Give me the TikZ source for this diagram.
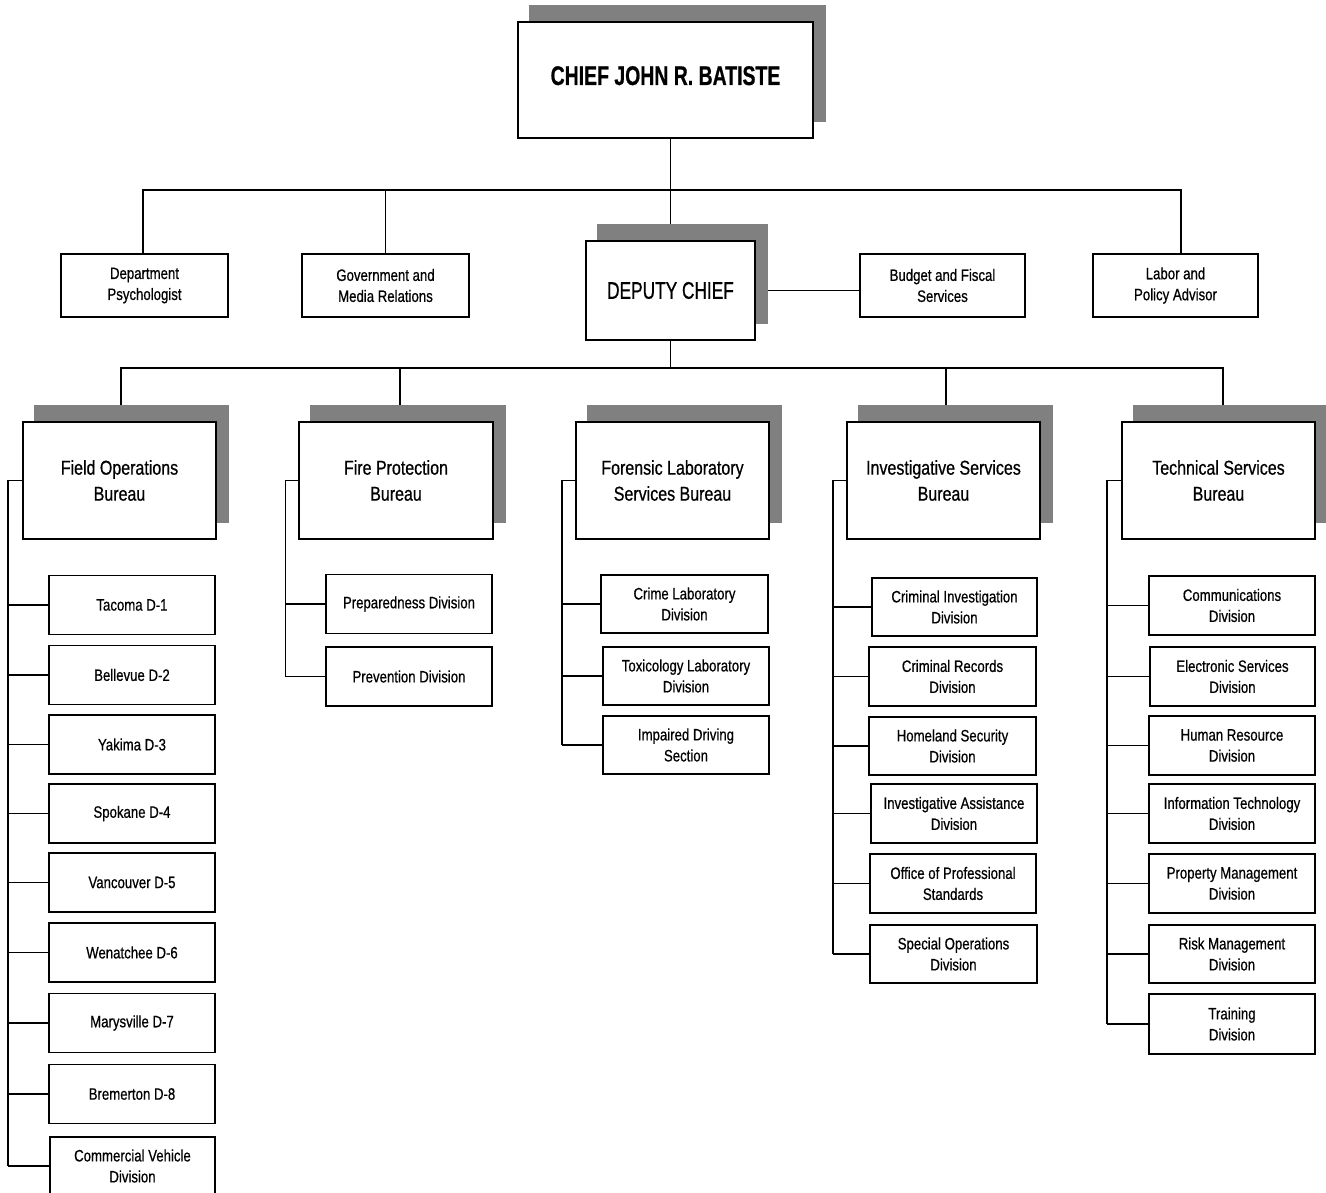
\documentclass[tikz,border=0pt]{standalone}
\usepackage{fontspec}
\setmainfont{Liberation Sans}[FakeStretch=0.8,FakeBold=0.6]
\newfontfamily\tfont{Liberation Sans}[FakeStretch=0.72,FakeBold=0.6]
\definecolor{shadowgray}{HTML}{808080}
\pgfdeclarelayer{bg}
\pgfsetlayers{bg,main}
\tikzset{
  box/.style={draw, fill=white, inner sep=0pt, align=center, line width=1.5pt},
  small/.style={box, minimum width=166, minimum height=59, font=\fontsize{16.5}{21}\selectfont},
  top2/.style={box, minimum height=63, font=\fontsize{16.5}{21}\selectfont},
  bureau/.style={box, minimum width=193, minimum height=117, font=\fontsize{20}{26}\selectfont},
  wire/.style={line width=1.6pt},
}
\begin{document}
\begin{tikzpicture}[x=1pt,y=-1pt]
\useasboundingbox (0,0) rectangle (1326,1193);
\clip (0,0) rectangle (1326,1193);
% top
\node[box, minimum width=295, minimum height=116, font=\tfont\bfseries\fontsize{27}{30}\selectfont] (chief) at (665.5,80) {\raisebox{-5pt}[0pt][0pt]{CHIEF JOHN R. BATISTE}};
\node[top2, minimum width=167] (psych) at (144.5,285.5) {Department\\Psychologist};
\node[top2, minimum width=167] (gov) at (385.5,285.5) {Government and\\Media Relations};
\node[box, minimum width=169, minimum height=99, font=\tfont\fontsize{24}{28}\selectfont] (deputy) at (670.5,290.5) {DEPUTY CHIEF};
\node[top2, minimum width=165] (budget) at (942.5,285.5) {Budget and Fiscal\\Services};
\node[top2, minimum width=165] (labor) at (1175.5,285.5) {Labor and\\Policy Advisor};
% bureaus
\node[bureau] (field) at (119.5,480.5) {Field Operations\\Bureau};
\node[bureau, minimum width=194] (fire) at (396,480.5) {Fire Protection\\Bureau};
\node[bureau] (forensic) at (672.5,480.5) {Forensic Laboratory\\Services Bureau};
\node[bureau] (invest) at (943.5,480.5) {Investigative Services\\Bureau};
\node[bureau] (tech) at (1218.5,480.5) {Technical Services\\Bureau};
% field children
\node[small] (d1) at (132,605) {Tacoma D-1};
\node[small] (d2) at (132,675) {Bellevue D-2};
\node[small] (d3) at (132,744.5) {Yakima D-3};
\node[small] (d4) at (132,813.5) {Spokane D-4};
\node[small] (d5) at (132,882.5) {Vancouver D-5};
\node[small] (d6) at (132,952.5) {Wenatchee D-6};
\node[small] (d7) at (132,1023) {Marysville D-7};
\node[small] (d8) at (132,1094) {Bremerton D-8};
\node[small, minimum width=165, minimum height=58] (cvd) at (132.5,1166) {Commercial Vehicle\\Division};
% fire children
\node[small] (prep) at (409,604) {Preparedness Division};
\node[small] (prev) at (409,676.5) {Prevention Division};
% forensic children
\node[small, minimum width=167, minimum height=58] (crime) at (684.5,604) {Crime Laboratory\\Division};
\node[small, minimum height=58] (tox) at (686,676) {Toxicology Laboratory\\Division};
\node[small, minimum height=58] (imp) at (686,745) {Impaired Driving\\Section};
% investigative children
\node[small, minimum width=165, minimum height=58] (cinv) at (954.5,607) {Criminal Investigation\\Division};
\node[small, minimum width=167] (crec) at (952.5,676.5) {Criminal Records\\Division};
\node[small, minimum width=167, minimum height=58] (home) at (952.5,746) {Homeland Security\\Division};
\node[small] (iad) at (954,813.5) {Investigative Assistance\\Division};
\node[small] (ops) at (953,883.5) {Office of Professional\\Standards};
\node[small, minimum width=167, minimum height=58] (sod) at (953.5,954) {Special Operations\\Division};
% technical children
\node[small] (comm) at (1232,605.5) {Communications\\Division};
\node[small, minimum width=165] (elec) at (1232.5,676.5) {Electronic Services\\Division};
\node[small] (hr) at (1232,745.5) {Human Resource\\Division};
\node[small] (itd) at (1232,813.5) {Information Technology\\Division};
\node[small] (prop) at (1232,883.5) {Property Management\\Division};
\node[small, minimum height=58] (risk) at (1232,954) {Risk Management\\Division};
\node[small, minimum height=60] (train) at (1232,1024) {Training\\Division};

\begin{pgfonlayer}{bg}
  \coordinate (busA) at (670.5,190);
  \coordinate (busB) at (670.5,368);
  \draw[wire] (chief.south -| deputy.north) -- (deputy.north);
  \draw[wire] ([xshift=-1.5]psych.north) |- (busA) -| ([xshift=5.5]labor.north);
  \draw[wire] (gov.north) |- (busA);
  \draw[wire] (deputy.east) -- (deputy.east -| budget.west);
  \draw[wire] (deputy.south) -- (busB);
  \draw[wire] ([xshift=1.5]field.north) |- (busB) -| ([xshift=4.5]tech.north);
  \draw[wire] ([xshift=4]fire.north) |- (busB);
  \draw[wire] ([xshift=2.5]invest.north) |- (busB);
  % spines
  \coordinate (fs) at (8,1166);
  \coordinate (ps) at (285.5,676.5);
  \coordinate (ls) at (562,745);
  \coordinate (is) at (833,954);
  \coordinate (ts) at (1107,1024);
  \draw[wire] (field.west) -| (fs);
  \draw[wire] (fire.west) -| (ps);
  \draw[wire] (forensic.west) -| (ls);
  \draw[wire] (invest.west) -| (is);
  \draw[wire] (tech.west) -| (ts);
  \foreach \c in {d1,d2,d3,d4,d5,d6,d7,d8,cvd} \draw[wire] (\c.west) -- (\c.west -| fs);
  \foreach \c in {prep,prev} \draw[wire] (\c.west) -- (\c.west -| ps);
  \foreach \c in {crime,tox,imp} \draw[wire] (\c.west) -- (\c.west -| ls);
  \foreach \c in {cinv,crec,home,iad,ops,sod} \draw[wire] (\c.west) -- (\c.west -| is);
  \foreach \c in {comm,elec,hr,itd,prop,risk,train} \draw[wire] (\c.west) -- (\c.west -| ts);
  % shadows
  \foreach \n in {chief,deputy,field,fire,forensic,invest,tech}
    \fill[shadowgray] ([shift={(12,-16.5)}]\n.south west) rectangle ([shift={(12,-16.5)}]\n.north east);
\end{pgfonlayer}
\end{tikzpicture}
\end{document}
